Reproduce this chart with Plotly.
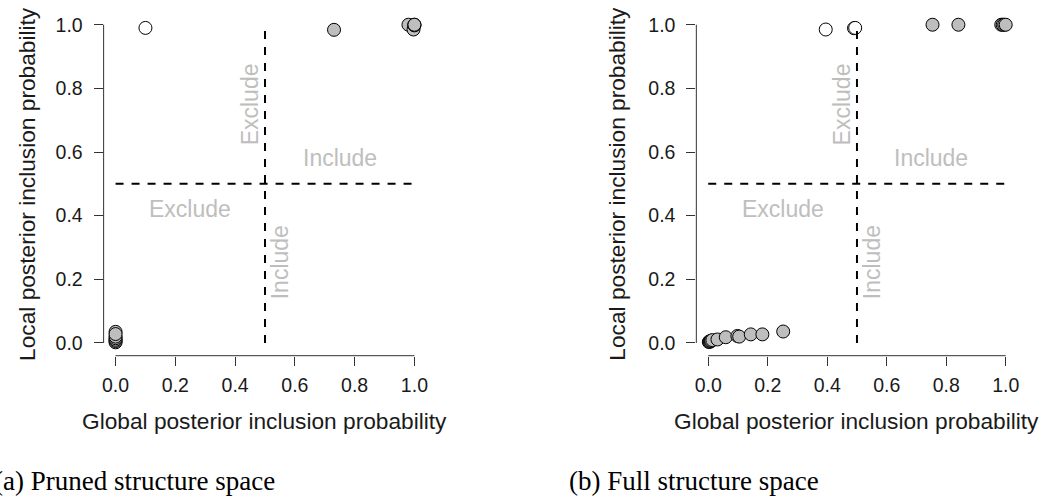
import plotly.graph_objects as go

# ---------------- data ----------------
tick_vals = [0.0, 0.2, 0.4, 0.6, 0.8, 1.0]
tick_text = ["0.0", "0.2", "0.4", "0.6", "0.8", "1.0"]
threshold = 0.5

# (a) pruned structure space
a_gray_x = [0.0, 0.0, 0.0, 0.0, 0.0, 0.0, 0.0, 0.731, 0.98, 0.997, 1.0, 1.0, 1.0]
a_gray_y = [0.002, 0.006, 0.010, 0.015, 0.020, 0.035, 0.028, 0.984, 1.0, 0.985, 1.0, 0.998, 1.0]
a_white_x = [0.10]
a_white_y = [0.99]

# (b) full structure space
b_gray_x = [0.002, 0.004, 0.006, 0.008, 0.010, 0.014, 0.031, 0.059, 0.098, 0.104,
            0.143, 0.182, 0.252, 0.754, 0.841, 0.985, 0.99, 0.995, 1.0]
b_gray_y = [0.003, 0.005, 0.004, 0.006, 0.007, 0.009, 0.011, 0.018, 0.022, 0.020,
            0.027, 0.027, 0.036, 1.0, 1.0, 1.0, 1.0, 1.0, 1.0]
b_white_x = [0.395, 0.490, 0.494]
b_white_y = [0.985, 0.989, 0.990]

x_title = "Global posterior inclusion probability"
y_title = "Local posterior inclusion probability"
captions = ["(a) Pruned structure space", "(b) Full structure space"]

GRAY_FILL = "#BEBEBE"
LABEL_GRAY = "#BEBEBE"
SANS = "Liberation Sans, Arial, sans-serif"
SERIF = "Liberation Serif, Times New Roman, serif"
W, H = 1047, 498

fig = go.Figure()

panels = [
    ("x", "y", a_gray_x, a_gray_y, a_white_x, a_white_y),
    ("x2", "y2", b_gray_x, b_gray_y, b_white_x, b_white_y),
]

for xa, ya, gx, gy, wx, wy in panels:
    fig.add_trace(go.Scatter(
        x=gx, y=gy, xaxis=xa, yaxis=ya, mode="markers",
        marker=dict(size=13, color=GRAY_FILL, line=dict(color="black", width=1)),
        showlegend=False, cliponaxis=False, hoverinfo="skip"))
    fig.add_trace(go.Scatter(
        x=wx, y=wy, xaxis=xa, yaxis=ya, mode="markers",
        marker=dict(size=13, color="white", line=dict(color="black", width=1)),
        showlegend=False, cliponaxis=False, hoverinfo="skip"))

    # R-style axis lines spanning only the tick range
    fig.add_shape(type="line", xref=xa, yref=ya + " domain",
                  x0=tick_vals[0], x1=tick_vals[-1], y0=0, y1=0,
                  line=dict(color="#333333", width=1))
    fig.add_shape(type="line", xref=xa + " domain", yref=ya,
                  x0=0, x1=0, y0=tick_vals[0], y1=tick_vals[-1],
                  line=dict(color="#333333", width=1))
    # threshold lines
    fig.add_shape(type="line", xref=xa, yref=ya,
                  x0=threshold, x1=threshold, y0=tick_vals[0], y1=tick_vals[-1],
                  line=dict(color="black", width=2, dash="8px,8px"))
    fig.add_shape(type="line", xref=xa, yref=ya,
                  x0=tick_vals[0], x1=tick_vals[-1], y0=threshold, y1=threshold,
                  line=dict(color="black", width=2, dash="8px,8px"))

    # quadrant labels
    for tx, ty, txt, ang in [(0.45, 0.75, "Exclude", -90), (0.75, 0.58, "Include", 0),
                             (0.25, 0.42, "Exclude", 0), (0.553, 0.253, "Include", -90)]:
        fig.add_annotation(x=tx, y=ty, xref=xa, yref=ya, text=txt, textangle=ang,
                           xanchor="center", yanchor="middle",
                           showarrow=False, font=dict(family=SANS, size=23, color=LABEL_GRAY))

# domains (pixels -> paper)
xd1 = [102 / W, 426 / W]
xd2 = [697 / W, 1019.5 / W]
yd = [1 - 355.7 / H, 1 - 12 / H]

axis_common = dict(range=[-0.04, 1.04], tickvals=tick_vals, ticktext=tick_text,
                   showgrid=False, zeroline=False, showline=False,
                   ticks="outside", ticklen=9, tickwidth=1, tickcolor="#333333",
                   tickfont=dict(family=SANS, size=19.5, color="#1a1a1a"))

fig.update_layout(
    width=W, height=H, margin=dict(l=0, r=0, t=0, b=0),
    paper_bgcolor="white", plot_bgcolor="white", showlegend=False,
    xaxis=dict(domain=xd1, anchor="y", ticklabelstandoff=3, **axis_common),
    yaxis=dict(domain=yd, anchor="x", ticklabelstandoff=7, **axis_common),
    xaxis2=dict(domain=xd2, anchor="y2", ticklabelstandoff=3, **axis_common),
    yaxis2=dict(domain=yd, anchor="x2", ticklabelstandoff=7, **axis_common),
)

# axis titles
for xc, yc_x in [((102 + 426) / 2, 25), ((697 + 1019.5) / 2, 617)]:
    fig.add_annotation(x=xc / W, y=1 - 421 / H, xref="paper", yref="paper",
                       text=x_title, showarrow=False, xanchor="center", yanchor="middle",
                       font=dict(family=SANS, size=22.7, color="#1a1a1a"))
    fig.add_annotation(x=yc_x / W, y=1 - 184 / H, xref="paper", yref="paper",
                       text=y_title, textangle=-90, showarrow=False,
                       xanchor="center", yanchor="middle",
                       font=dict(family=SANS, size=22.7, color="#1a1a1a"))

# captions
for cx, cap in [(-10, captions[0]), (567, captions[1])]:
    fig.add_annotation(x=cx / W, y=1 - 481 / H, xref="paper", yref="paper",
                       text=cap, showarrow=False, xanchor="left", yanchor="middle",
                       font=dict(family=SERIF, size=27, color="black"))

fig.write_html("out.html")
